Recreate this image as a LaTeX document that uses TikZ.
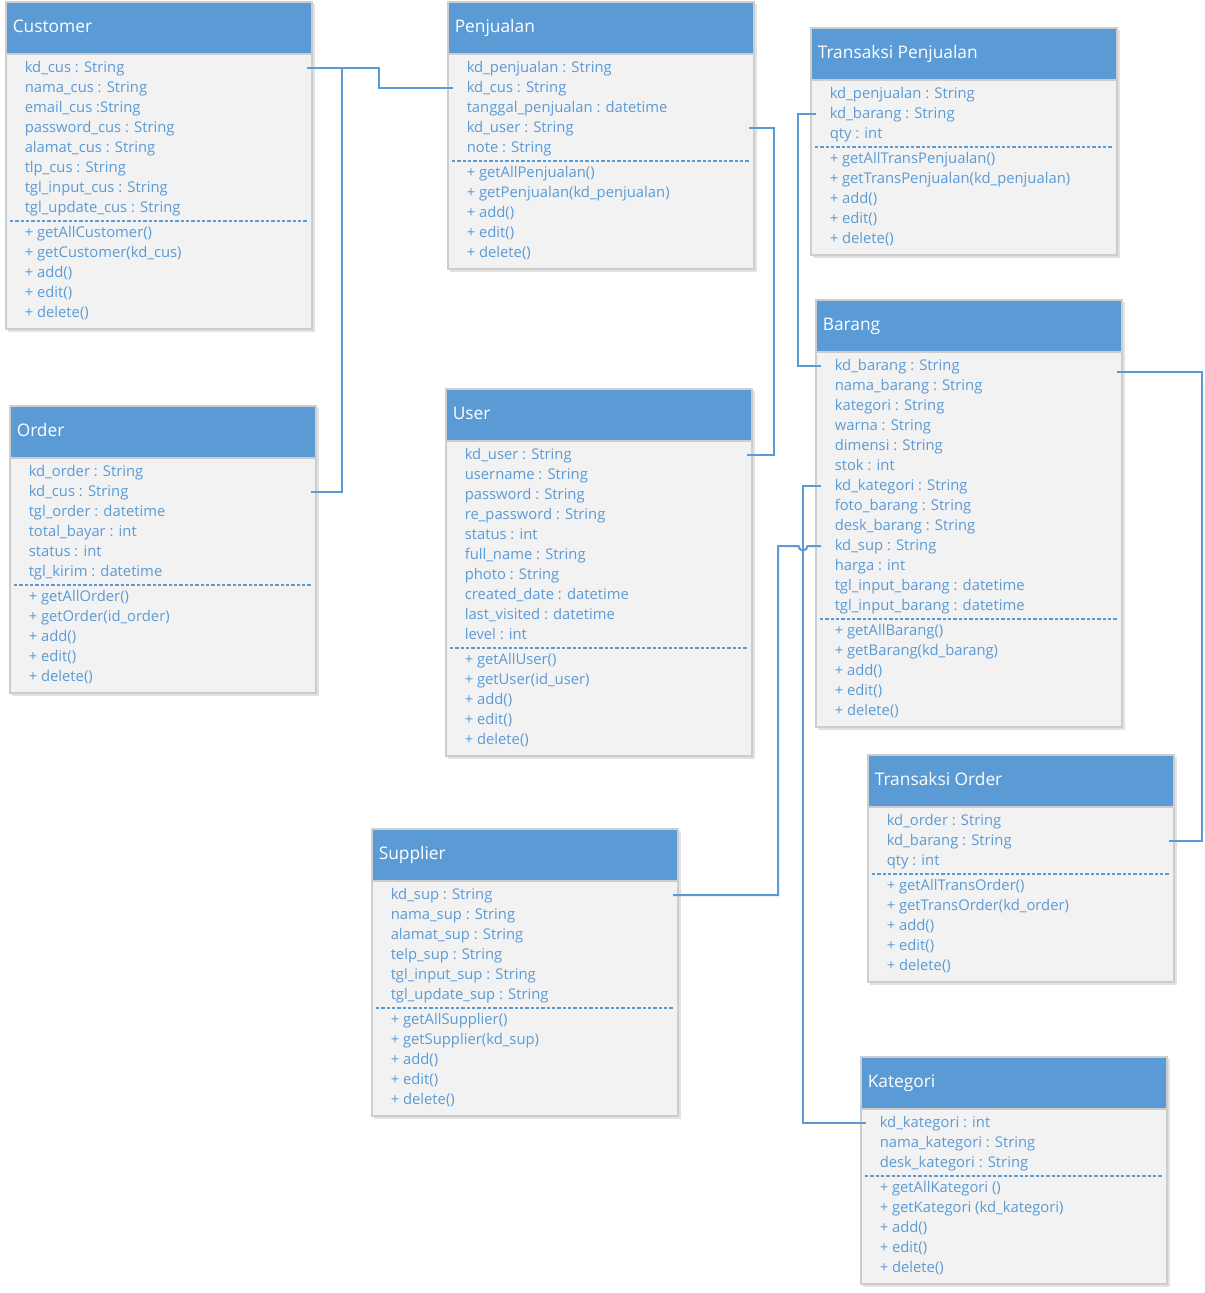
\documentclass[tikz,border=0pt]{standalone}
\usepackage{fontspec}
\setmainfont{Open Sans}
\usetikzlibrary{calc}
\definecolor{umlblue}{HTML}{5B9BD5}
\definecolor{umlbody}{HTML}{F2F2F2}
\definecolor{umledge}{HTML}{CDCDCD}
\definecolor{umlshade}{HTML}{E2E2E2}

\tikzset{
  attr/.style={anchor=west, inner sep=0pt, text=umlblue,
    font=\fontsize{11.1}{13}\selectfont, text height=1.33ex, text depth=0pt},
  ctitle/.style={anchor=west, inner sep=0pt, text=white,
    font=\fontsize{13}{16}\selectfont, text height=1.33ex, text depth=0pt},
  body/.style={fill=umlbody, draw=umledge, line width=0.9pt},
  head/.style={fill=umlblue, draw=umledge, line width=0.9pt},
  sep/.style={draw=umlblue, line width=0.8pt, dash pattern=on 2.6pt off 1.4pt},
  link/.style={draw=umlblue, line width=1.5pt},
  shade/.style={fill=umlshade},
}

% \classbox{id}{left}{top}{title}{attributes}{methods}
\newcommand\classbox[6]{%
  \foreach \txt [count=\i] in {#5} {\xdef\nattr{\i}}%
  \foreach \txt [count=\i] in {#6} {\xdef\nmeth{\i}}%
  \pgfmathsetmacro\sepy{#3+66+20*(\nattr-1)+13}%
  \pgfmathsetmacro\boty{\sepy+12+20*(\nmeth-1)+16}%
  \fill[shade] (#2+2,#3+2) rectangle (#2+308.5,\boty+2.5);
  \draw[body] (#2,#3) rectangle (#2+306,\boty);
  \draw[head] (#2,#3) rectangle (#2+306,#3+52);
  \node[ctitle] (#1) at (#2+6.5,#3+26) {#4};
  \coordinate (#1-L) at (#2+5,#3);
  \coordinate (#1-R) at (#2+301,#3);
  \foreach \txt [count=\i] in {#5}
    \node[attr] (#1-a\i) at (#2+18.5,#3+66+20*\i-20) {\txt};
  \draw[sep] (#2+4,\sepy) -- (#2+302,\sepy);
  \foreach \txt [count=\i] in {#6}
    \node[attr] (#1-m\i) at (#2+18.5,\sepy+12+20*\i-20) {\txt};
}

\begin{document}
\begin{tikzpicture}[x=0.75pt,y=-0.75pt]
\useasboundingbox[fill=white] (0,0) rectangle (1204,1293);

\classbox{cus}{6}{2}{Customer}
  {kd\_cus : String, nama\_cus : String, email\_cus :String, password\_cus : String,
   alamat\_cus : String, tlp\_cus : String, tgl\_input\_cus : String, tgl\_update\_cus : String}
  {+ getAllCustomer(), + getCustomer(kd\_cus), + add(), + edit(), + delete()}

\classbox{pen}{448}{2}{Penjualan}
  {kd\_penjualan : String, kd\_cus : String, tanggal\_penjualan : datetime,
   kd\_user : String, note : String}
  {+ getAllPenjualan(), + getPenjualan(kd\_penjualan), + add(), + edit(), + delete()}

\classbox{tp}{811}{28}{Transaksi Penjualan}
  {kd\_penjualan : String, kd\_barang : String, qty : int}
  {+ getAllTransPenjualan(), + getTransPenjualan(kd\_penjualan), + add(), + edit(), + delete()}

\classbox{brg}{816}{300}{Barang}
  {kd\_barang : String, nama\_barang : String, kategori : String, warna : String,
   dimensi : String, stok : int, kd\_kategori : String, foto\_barang : String,
   desk\_barang : String, kd\_sup : String, harga : int,
   tgl\_input\_barang : datetime, tgl\_input\_barang : datetime}
  {+ getAllBarang(), + getBarang(kd\_barang), + add(), + edit(), + delete()}

\classbox{ord}{10}{406}{Order}
  {kd\_order : String, kd\_cus : String, tgl\_order : datetime, total\_bayar : int,
   status : int, tgl\_kirim : datetime}
  {+ getAllOrder(), + getOrder(id\_order), + add(), + edit(), + delete()}

\classbox{usr}{446}{389}{User}
  {kd\_user : String, username : String, password : String, re\_password : String,
   status : int, full\_name : String, photo : String, created\_date : datetime,
   last\_visited : datetime, level : int}
  {+ getAllUser(), + getUser(id\_user), + add(), + edit(), + delete()}

\classbox{to}{868}{755}{Transaksi Order}
  {kd\_order : String, kd\_barang : String, qty : int}
  {+ getAllTransOrder(), + getTransOrder(kd\_order), + add(), + edit(), + delete()}

\classbox{sup}{372}{829}{Supplier}
  {kd\_sup : String, nama\_sup : String, alamat\_sup : String, telp\_sup : String,
   tgl\_input\_sup : String, tgl\_update\_sup : String}
  {+ getAllSupplier(), + getSupplier(kd\_sup), + add(), + edit(), + delete()}

\classbox{kat}{861}{1057}{Kategori}
  {kd\_kategori : int, nama\_kategori : String, desk\_kategori : String}
  {+ getAllKategori (), + getKategori (kd\_kategori), + add(), + edit(), + delete()}

% associations
\draw[link] (cus-R |- cus-a1) -- ++(72,0) |- (pen-L |- pen-a2);
\draw[link] ($(cus-R |- cus-a1)+(35,0)$) |- (ord-R |- ord-a2);
\draw[link] (pen-R |- pen-a4) -- ++(25,0) |- (usr-R |- usr-a1);
\draw[link] (tp-L |- tp-a2) -- ++(-18,0) |- (brg-L |- brg-a1);
\draw[link] (brg-L |- brg-a7) -- ++(-18,0) |- (kat-L |- kat-a1);
\draw[link] (brg-L |- brg-a10) -- ++(-13.5,0)
  arc[start angle=0, end angle=180, radius=4.5] -- ++(-20.5,0) |- (sup-R |- sup-a1);
\draw[link] ($(brg-R |- brg-a1)+(0,6)$) -- ++(85,0) |- (to-R |- to-a2);
\end{tikzpicture}
\end{document}
